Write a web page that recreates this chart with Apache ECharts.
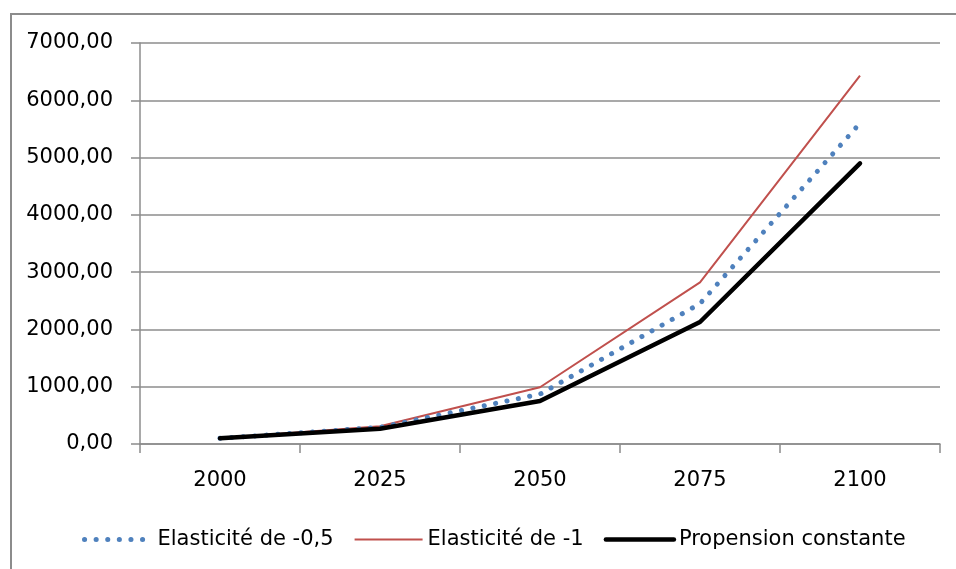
<!DOCTYPE html>
<html>
<head>
<meta charset="utf-8">
<script src="https://cdn.jsdelivr.net/npm/echarts@6/dist/echarts.min.js"></script>
<style>
  html, body { margin: 0; padding: 0; background: #fff; }
  #frame {
    position: absolute; left: 10px; top: 13px; width: 1000px; height: 600px;
    border-left: 2px solid #8c8c8c; border-top: 2px solid #8c8c8c; box-sizing: border-box;
  }
  #chart { position: absolute; left: 0; top: 0; width: 956px; height: 569px; }
</style>
</head>
<body>
<div id="frame"></div>
<div id="chart"></div>
<script>
// données
var years = ["2000", "2025", "2050", "2075", "2100"];
var elast05 = [100, 290, 870, 2450, 5600];
var elast1 = [100, 310, 990, 2820, 6430];
var propension = [100, 265, 750, 2130, 4900];
var yTicks = [0, 1000, 2000, 3000, 4000, 5000, 6000, 7000];

var gridColor = "#8c8c8c";
var font = "DejaVu Sans";
var blue = "#4f81bd", red = "#c0504d", black = "#000";

var dotted = { color: blue, width: 5, type: [0.1, 11.5], cap: "round" };
var plain = { color: red, width: 2 };
var thick = { color: black, width: 4.5, cap: "round", join: "round" };

var myChart = echarts.init(document.getElementById("chart"));

var option = {
  animation: false,
  textStyle: { fontFamily: font },
  grid: { left: 140, right: 16, top: 43, bottom: 125 },
  legend: {
    left: 77,
    top: 524,
    itemWidth: 68,
    itemHeight: 14,
    itemGap: 20,
    textStyle: { fontFamily: font, fontSize: 21, color: "#000" },
    // pas de symbole dans la légende, seulement le trait
    data: [
      { name: "Elasticité de -0,5", itemStyle: { opacity: 0 }, lineStyle: dotted },
      { name: "Elasticité de -1", itemStyle: { opacity: 0 }, lineStyle: plain },
      { name: "Propension constante", itemStyle: { opacity: 0 }, lineStyle: thick }
    ]
  },
  xAxis: {
    type: "category",
    data: years,
    boundaryGap: true,
    axisLine: { lineStyle: { color: gridColor, width: 1.5 } },
    axisTick: { show: true, length: 9, lineStyle: { color: gridColor, width: 1.5 } },
    axisLabel: { fontFamily: font, fontSize: 21, color: "#000", margin: 26 }
  },
  yAxis: {
    type: "value",
    min: yTicks[0],
    max: yTicks[yTicks.length - 1],
    interval: 1000,
    axisLine: { show: true, lineStyle: { color: gridColor, width: 1.5 } },
    axisTick: { show: true, length: 9, lineStyle: { color: gridColor, width: 1.5 } },
    splitLine: { show: true, lineStyle: { color: gridColor, width: 1.5 } },
    axisLabel: {
      fontFamily: font,
      fontSize: 21,
      color: "#000",
      margin: 27,
      formatter: function (v) { return v.toFixed(2).replace(".", ","); }
    }
  },
  series: [
    {
      name: "Elasticité de -0,5",
      type: "line",
      symbol: "none",
      z: 3,
      lineStyle: dotted,
      itemStyle: { color: blue },
      data: elast05
    },
    {
      name: "Elasticité de -1",
      type: "line",
      symbol: "none",
      z: 2,
      lineStyle: plain,
      itemStyle: { color: red },
      data: elast1
    },
    {
      name: "Propension constante",
      type: "line",
      symbol: "none",
      z: 4,
      lineStyle: thick,
      itemStyle: { color: black },
      data: propension
    }
  ]
};

myChart.setOption(option, true);
</script>
</body>
</html>
